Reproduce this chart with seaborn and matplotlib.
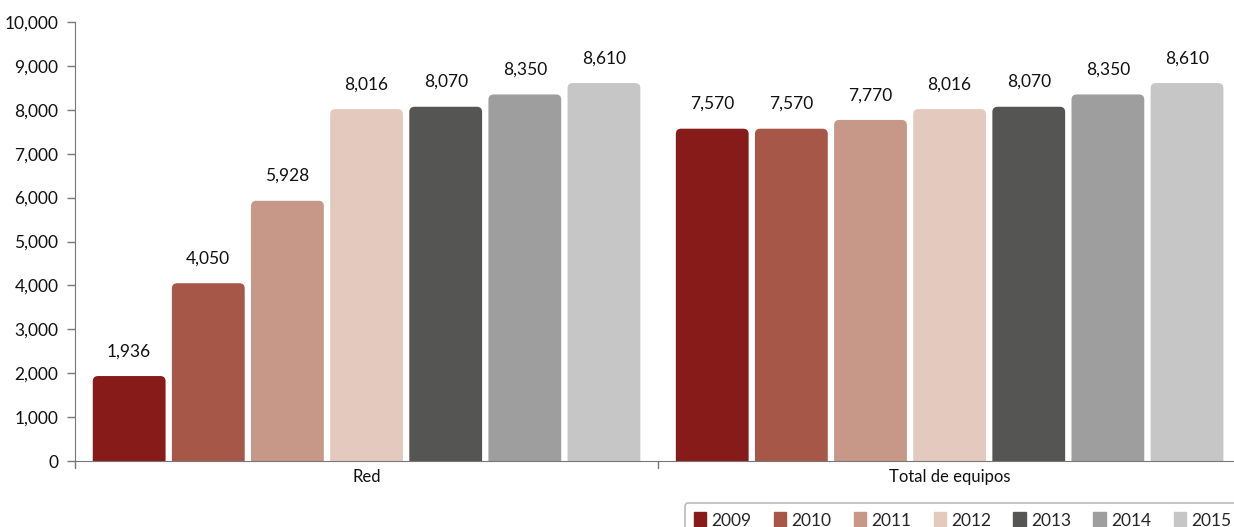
import pandas as pd
import seaborn as sns
import matplotlib.pyplot as plt
from matplotlib.patches import FancyBboxPatch

categorias = ["Red", "Total de equipos"]
anios = ["2009", "2010", "2011", "2012", "2013", "2014", "2015"]
red = [1936, 4050, 5928, 8016, 8070, 8350, 8610]
total_equipos = [7570, 7570, 7770, 8016, 8070, 8350, 8610]
colores = ["#861B1A", "#A65747", "#C79788", "#E4C9BF", "#555553", "#9E9E9E", "#C6C6C6"]

df = pd.DataFrame({
    "categoria": [categorias[0]] * len(anios) + [categorias[1]] * len(anios),
    "anio": anios + anios,
    "valor": red + total_equipos,
})

sns.set_style("white")
plt.rcParams["font.family"] = ["Lato", "DejaVu Sans"]

fig = plt.figure(figsize=(12.34, 5.27), dpi=100)
ax = fig.add_axes([0.0608, 0.1252, 0.945, 0.833])

sns.barplot(data=df, x="categoria", y="valor", hue="anio", palette=colores,
            saturation=1, width=0.95, gap=0.08, ax=ax, legend=True)

for cont in ax.containers:
    ax.bar_label(cont, labels=[f"{v:,.0f}" for v in cont.datavalues],
                 padding=12, fontsize=12.5, color="#111111")

# esquinas redondeadas: se cambia cada barra por una FancyBboxPatch
aspecto = (10000 / 439) * 583
for cont in ax.containers:
    for b in cont.patches:
        x, w, h = b.get_x(), b.get_width(), b.get_height()
        rb = FancyBboxPatch((x, -300), w, h + 300,
                            boxstyle="round,pad=0,rounding_size=0.009",
                            mutation_aspect=aspecto, facecolor=b.get_facecolor(),
                            edgecolor="none", zorder=b.get_zorder())
        ax.add_patch(rb)
        b.set_visible(False)

ax.set_ylim(0, 10000)
ax.set_yticks(range(0, 10001, 1000))
ax.set_yticklabels([f"{v:,}" for v in range(0, 10001, 1000)], fontsize=12.5,
                   color="#111111")
ax.set_xlim(-0.5, 1.5)
ax.set_xlabel("")
ax.set_ylabel("")
ax.tick_params(axis="x", length=0, labelsize=12, labelcolor="#111111", pad=6)
ax.tick_params(axis="y", length=6, width=1, color="#777777", left=True, pad=6)
ax.set_xticks([0, 1])
ax.set_xticklabels(categorias)
# marcas de separacion entre categorias
for xpos in [-0.5, 0.5]:
    ax.plot([xpos, xpos], [0, -0.015], transform=ax.get_xaxis_transform(),
            color="#777777", lw=1, clip_on=False)

sns.despine(ax=ax)
ax.spines["left"].set_color("#777777")
ax.spines["bottom"].set_color("#777777")

ax.legend_.remove()
handles = [plt.Rectangle((0, 0), 1, 1, color=c) for c in colores]
leg = fig.legend(handles, anios, ncol=7, loc="lower left",
                 bbox_to_anchor=(0.548, -0.036), frameon=True, fontsize=12.5,
                 handlelength=0.7, handleheight=1.0, handletextpad=0.3,
                 columnspacing=1.3, borderpad=0.5, fancybox=True)
leg.get_frame().set_edgecolor("#AAAAAA")
leg.get_frame().set_linewidth(1.2)

fig.savefig("out.png", dpi=100)
